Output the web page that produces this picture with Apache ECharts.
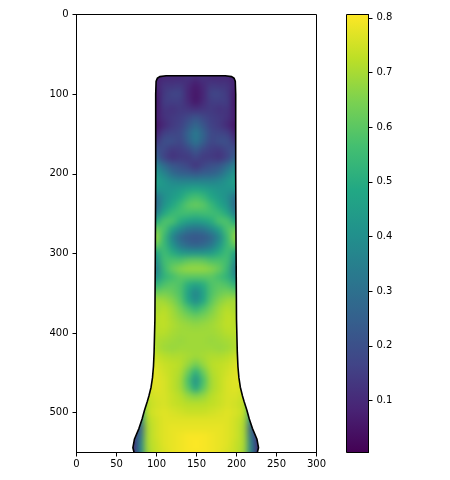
<!DOCTYPE html>
<html>
<head>
<meta charset="utf-8">
<script src="https://cdn.jsdelivr.net/npm/echarts@6/dist/echarts.min.js"></script>
<style>
  html, body { margin: 0; padding: 0; background: #fff; }
  #main { width: 450px; height: 480px; }
  /* the cells sit on their own zlevel canvas, soften them like imshow smoothing */
  canvas[data-zr-dom-id="zr_1"] { filter: blur(3px); }
</style>
</head>
<body>
<div id="main"></div>
<script>
const viridis = ['#440154', '#482475', '#414487', '#355f8d', '#2a788e', '#21918c', '#22a884', '#44bf70', '#7ad151', '#bddf26', '#fde725']

const centerX = 149
const cellSize = 10
const valueMin = 0.005
const valueMax = 0.806

const xTicks = [0, 50, 100, 150, 200, 250, 300]
const yTicks = [0, 100, 200, 300, 400, 500]
const barTicks = [0.1, 0.2, 0.3, 0.4, 0.5, 0.6, 0.7, 0.8]

// distance from the centre line of each column
const halfCols = [0, 10, 20, 30, 40, 50, 60, 70, 80, 90]
const rowYs = [70, 80, 90, 100, 110, 120, 130, 140, 150, 160, 170, 180, 190, 200, 210, 220, 230, 240, 250, 260, 270, 280, 290, 300, 310, 320, 330, 340, 350, 360, 370, 380, 390, 400, 410, 420, 430, 440, 450, 460, 470, 480, 490, 500, 510, 520, 530, 540, 550, 560]
// values, left half mirrors the right half
const halfValues = [
  [0.10, 0.12, 0.10, 0.10, 0.10, 0.08, 0.08],
  [0.10, 0.12, 0.10, 0.10, 0.10, 0.08, 0.08],
  [0.06, 0.10, 0.14, 0.13, 0.13, 0.08, 0.08],
  [0.05, 0.09, 0.17, 0.17, 0.14, 0.06, 0.06],
  [0.05, 0.10, 0.15, 0.15, 0.15, 0.05, 0.05],
  [0.12, 0.13, 0.14, 0.12, 0.13, 0.06, 0.06],
  [0.22, 0.18, 0.15, 0.14, 0.12, 0.07, 0.07],
  [0.28, 0.22, 0.16, 0.14, 0.10, 0.05, 0.05],
  [0.34, 0.26, 0.18, 0.17, 0.16, 0.08, 0.08],
  [0.33, 0.25, 0.17, 0.20, 0.20, 0.13, 0.13],
  [0.24, 0.18, 0.15, 0.14, 0.18, 0.20, 0.20],
  [0.18, 0.14, 0.14, 0.12, 0.16, 0.25, 0.25],
  [0.12, 0.17, 0.20, 0.22, 0.28, 0.36, 0.36],
  [0.22, 0.24, 0.25, 0.28, 0.36, 0.42, 0.42],
  [0.36, 0.36, 0.36, 0.38, 0.42, 0.46, 0.46],
  [0.48, 0.46, 0.44, 0.42, 0.42, 0.42, 0.42],
  [0.57, 0.54, 0.48, 0.44, 0.40, 0.30, 0.30],
  [0.62, 0.60, 0.54, 0.48, 0.42, 0.28, 0.28],
  [0.55, 0.56, 0.56, 0.54, 0.48, 0.34, 0.34],
  [0.44, 0.46, 0.50, 0.58, 0.58, 0.48, 0.48],
  [0.30, 0.32, 0.38, 0.46, 0.58, 0.62, 0.62],
  [0.22, 0.23, 0.27, 0.37, 0.54, 0.68, 0.68],
  [0.25, 0.27, 0.32, 0.42, 0.54, 0.62, 0.62],
  [0.42, 0.42, 0.44, 0.50, 0.56, 0.46, 0.46],
  [0.62, 0.61, 0.58, 0.58, 0.56, 0.40, 0.40],
  [0.68, 0.68, 0.66, 0.62, 0.54, 0.34, 0.34],
  [0.60, 0.60, 0.60, 0.56, 0.52, 0.40, 0.40],
  [0.46, 0.50, 0.58, 0.60, 0.58, 0.52, 0.52],
  [0.36, 0.46, 0.58, 0.62, 0.64, 0.62, 0.62],
  [0.38, 0.48, 0.60, 0.66, 0.69, 0.70, 0.70],
  [0.52, 0.58, 0.64, 0.69, 0.72, 0.70, 0.70],
  [0.62, 0.64, 0.67, 0.70, 0.73, 0.72, 0.72],
  [0.67, 0.68, 0.69, 0.71, 0.73, 0.72, 0.72],
  [0.69, 0.69, 0.69, 0.70, 0.72, 0.72, 0.72],
  [0.69, 0.69, 0.68, 0.69, 0.70, 0.71, 0.71],
  [0.69, 0.69, 0.69, 0.68, 0.69, 0.71, 0.71],
  [0.69, 0.70, 0.71, 0.71, 0.72, 0.74, 0.74],
  [0.63, 0.68, 0.72, 0.73, 0.74, 0.76, 0.76],
  [0.50, 0.62, 0.71, 0.73, 0.75, 0.77, 0.77],
  [0.40, 0.57, 0.70, 0.73, 0.76, 0.77, 0.77],
  [0.46, 0.60, 0.70, 0.73, 0.76, 0.77, 0.75],
  [0.66, 0.68, 0.72, 0.74, 0.76, 0.76, 0.74],
  [0.72, 0.72, 0.73, 0.74, 0.76, 0.75, 0.73, 0.55],
  [0.74, 0.74, 0.75, 0.76, 0.77, 0.76, 0.74, 0.50],
  [0.77, 0.77, 0.77, 0.77, 0.77, 0.75, 0.72, 0.35, 0.20],
  [0.78, 0.78, 0.78, 0.78, 0.77, 0.75, 0.71, 0.25, 0.12],
  [0.80, 0.80, 0.79, 0.78, 0.77, 0.75, 0.71, 0.30, 0.10, 0.10],
  [0.81, 0.80, 0.79, 0.78, 0.77, 0.74, 0.71, 0.35, 0.08, 0.08],
  [0.80, 0.80, 0.79, 0.78, 0.76, 0.74, 0.70, 0.35, 0.08, 0.08],
  [0.80, 0.80, 0.79, 0.78, 0.76, 0.74, 0.70, 0.35, 0.08, 0.08]
]

// left edge of the outline, the right edge is its mirror
const outlineX = [149, 112, 104, 101, 99.5, 99, 99, 98.5, 98, 97, 96.2, 95, 93.2, 90.5, 88.5, 85, 82, 78, 72.5, 70.5, 72]
const outlineY = [77, 77, 78, 80, 84, 100, 200, 300, 383, 424, 442, 456, 468, 479, 486, 497, 508, 520, 533, 544, 550]

const cells = []
rowYs.forEach((y, r) => {
  halfValues[r].forEach((v, c) => {
    cells.push([centerX + halfCols[c], y, v])
    if (halfCols[c] > 0) cells.push([centerX - halfCols[c], y, v])
  })
})

const leftEdge = outlineX.map((x, i) => [x, outlineY[i]])
const rightEdge = outlineX.map((x, i) => [2 * centerX - x, outlineY[i]])
const outline = leftEdge.slice().reverse().concat(rightEdge.slice(1))

function renderCell(params, api) {
  const c = api.coord([api.value(0), api.value(1)])
  const s = api.size([cellSize, cellSize])
  return {
    type: 'rect',
    shape: { x: c[0] - s[0] / 2 - 0.5, y: c[1] - s[1] / 2 - 0.5, width: s[0] + 1, height: s[1] + 1 },
    style: { fill: api.visual('color') }
  }
}

// white cover for everything outside the shape, hides the blur spill
function renderMask(params, api) {
  const toPx = p => api.coord(p)
  const polys = [
    leftEdge.concat([[72, 575], [-6, 575], [-6, -6], [centerX, -6]]),
    rightEdge.concat([[2 * centerX - 72, 575], [306, 575], [306, -6], [centerX, -6]]),
    [[60, 550], [240, 550], [240, 575], [60, 575]],
    [[90, -6], [210, -6], [210, 76.5], [90, 76.5]]
  ]
  return {
    type: 'group',
    children: polys.map(poly => ({
      type: 'polygon',
      shape: { points: poly.map(toPx) },
      style: { fill: '#fff' }
    }))
  }
}

const tickFont = { color: '#000', fontSize: 10, fontFamily: 'DejaVu Sans' }
const axisLine = { show: true, onZero: false, lineStyle: { color: '#000', width: 1 } }
const axisTick = { show: true, length: 4, lineStyle: { color: '#000', width: 1 } }

const chart = echarts.init(document.getElementById('main'))
chart.setOption({
  animation: false,
  backgroundColor: '#fff',
  grid: [
    { left: 76.5, top: 14.5, width: 240, height: 438, show: true, borderColor: '#000', borderWidth: 1, backgroundColor: 'transparent', zlevel: 3 },
    { left: 346.5, top: 14.5, width: 22, height: 438, show: true, borderColor: '#000', borderWidth: 1, backgroundColor: 'transparent', zlevel: 3 }
  ],
  xAxis: [
    {
      gridIndex: 0, type: 'value', position: 'bottom', min: 0, max: 300, zlevel: 3,
      axisLine,
      axisTick: Object.assign({}, axisTick, { customValues: xTicks }),
      axisLabel: Object.assign({}, tickFont, { customValues: xTicks, margin: 7 }),
      splitLine: { show: false }
    },
    {
      gridIndex: 1, type: 'category', data: ['c'], zlevel: 3,
      axisLine: { show: false }, axisTick: { show: false }, axisLabel: { show: false }, splitLine: { show: false }
    }
  ],
  yAxis: [
    {
      gridIndex: 0, type: 'value', position: 'left', min: 0, max: 550, inverse: true, zlevel: 3,
      axisLine,
      axisTick: Object.assign({}, axisTick, { customValues: yTicks }),
      axisLabel: Object.assign({}, tickFont, { customValues: yTicks, margin: 8, padding: [2, 0, 0, 0], verticalAlignMinLabel: 'middle', verticalAlignMaxLabel: 'middle' }),
      splitLine: { show: false }
    },
    {
      gridIndex: 1, type: 'value', position: 'right', min: valueMin, max: valueMax, zlevel: 3,
      axisLine,
      axisTick: Object.assign({}, axisTick, { customValues: barTicks }),
      axisLabel: Object.assign({}, tickFont, { customValues: barTicks, margin: 8, padding: [2, 0, 0, 0], formatter: v => v.toFixed(1) }),
      splitLine: { show: false }
    }
  ],
  visualMap: {
    show: false,
    seriesIndex: 0,
    dimension: 2,
    min: valueMin,
    max: valueMax,
    inRange: { color: viridis }
  },
  series: [
    {
      type: 'custom',
      xAxisIndex: 0,
      yAxisIndex: 0,
      zlevel: 1,
      clip: false,
      silent: true,
      renderItem: renderCell,
      encode: { x: 0, y: 1 },
      data: cells
    },
    {
      type: 'custom',
      xAxisIndex: 0,
      yAxisIndex: 0,
      zlevel: 2,
      clip: false,
      silent: true,
      renderItem: renderMask,
      encode: { x: 0, y: 1 },
      data: [[centerX, 0]]
    },
    {
      type: 'line',
      xAxisIndex: 0,
      yAxisIndex: 0,
      zlevel: 3,
      silent: true,
      showSymbol: false,
      symbol: 'none',
      lineStyle: { color: '#000', width: 1.6 },
      data: outline
    },
    {
      type: 'bar',
      xAxisIndex: 1,
      yAxisIndex: 1,
      zlevel: 2,
      silent: true,
      barWidth: '100%',
      itemStyle: {
        color: new echarts.graphic.LinearGradient(0, 1, 0, 0, viridis.map((c, i) => ({ offset: i / (viridis.length - 1), color: c })))
      },
      data: [valueMax]
    }
  ]
})
</script>
</body>
</html>
